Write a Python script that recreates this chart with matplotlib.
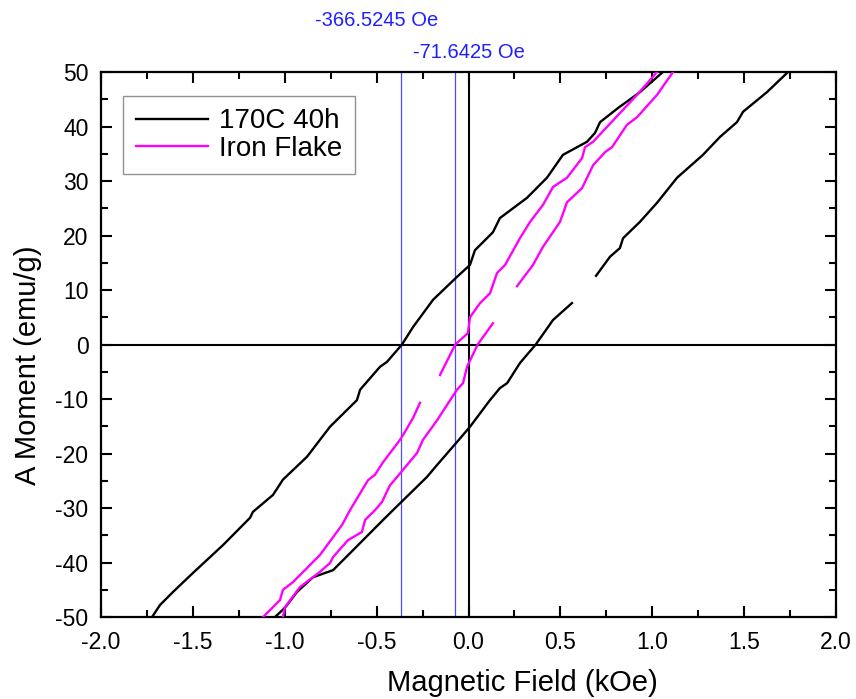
import matplotlib
matplotlib.use("Agg")
import matplotlib.pyplot as plt
import numpy as np

plt.rcParams['font.family'] = ['Liberation Sans', 'DejaVu Sans']

# ---- data (kOe, emu/g) ----
# 170C 40h: descending branch
b_down_x = [1.058, 0.933, 0.814, 0.716, 0.688, 0.645, 0.514, 0.427, 0.318, 0.171, 0.133,
            0.035, 0.008, -0.063, -0.193, -0.302, -0.362, -0.444, -0.482, -0.590, -0.607,
            -0.754, -0.879, -1.010, -1.064, -1.173, -1.189, -1.336, -1.499, -1.608, -1.679, -1.722]
b_down_y = [50.0, 46.3, 43.4, 40.8, 38.8, 37.2, 34.8, 30.6, 26.9, 23.2, 20.6,
            17.3, 14.6, 12.4, 8.2, 3.2, 0.0, -3.2, -4.1, -8.3, -10.2,
            -15.1, -20.6, -24.8, -27.6, -30.7, -31.8, -36.8, -41.9, -45.4, -47.8, -50.0]
# 170C 40h: ascending branch, part 1
b_up1_x = [-1.053, -0.999, -0.933, -0.846, -0.737, -0.645, -0.465, -0.411, -0.226, -0.171,
           -0.063, 0.008, 0.117, 0.171, 0.210, 0.280, 0.366, 0.460, 0.563]
b_up1_y = [-50.0, -48.3, -45.4, -42.7, -41.4, -38.3, -32.2, -30.4, -24.3, -22.1,
           -17.9, -15.1, -10.2, -8.0, -7.1, -3.4, 0.0, 4.5, 7.6]
# 170C 40h: ascending branch, part 2
b_up2_x = [0.694, 0.770, 0.824, 0.841, 0.933, 1.026, 1.135, 1.276, 1.369, 1.461, 1.494, 1.624, 1.739]
b_up2_y = [12.6, 16.1, 17.7, 19.5, 22.5, 26.0, 30.6, 34.8, 38.1, 40.8, 42.7, 46.3, 50.0]

# Iron Flake: descending branch, part 1
m_down1_x = [1.026, 0.917, 0.814, 0.678, 0.634, 0.618, 0.536, 0.460, 0.405, 0.335, 0.280,
             0.199, 0.155, 0.117, 0.063, 0.008, -0.003, -0.072, -0.155]
m_down1_y = [50.0, 45.8, 42.1, 37.2, 36.2, 34.2, 30.6, 28.9, 25.6, 22.5, 19.5,
             14.6, 13.1, 9.4, 7.6, 5.0, 2.1, 0.0, -5.6]
# Iron Flake: descending branch, part 2
m_down2_x = [-0.264, -0.302, -0.356, -0.373, -0.465, -0.509, -0.547, -0.645, -0.688, -0.808,
             -0.955, -1.010, -1.026, -1.097, -1.118]
m_down2_y = [-10.7, -13.5, -16.6, -17.5, -21.6, -23.9, -24.9, -30.4, -33.1, -38.6,
             -43.6, -45.0, -46.9, -49.3, -50.0]
# Iron Flake: ascending branch, part 1
m_up1_x = [-1.010, -0.999, -0.917, -0.808, -0.754, -0.737, -0.656, -0.580, -0.563, -0.509,
           -0.471, -0.427, -0.411, -0.280, -0.248, -0.171, -0.063, -0.030, -0.008, 0.050, 0.133]
m_up1_y = [-50.0, -48.2, -44.5, -41.7, -40.1, -39.0, -35.9, -34.4, -32.2, -30.4,
           -28.9, -25.8, -25.2, -19.9, -17.5, -13.9, -8.3, -7.1, -4.1, 0.0, 3.9]
# Iron Flake: ascending branch, part 2
m_up2_x = [0.264, 0.351, 0.405, 0.498, 0.536, 0.618, 0.678, 0.743, 0.781, 0.862, 0.917, 1.026, 1.113]
m_up2_y = [10.7, 14.6, 17.9, 22.5, 26.1, 28.7, 32.9, 35.3, 36.2, 40.3, 41.7, 45.8, 50.0]

coercive_oe = [-366.5245, -71.6425]
x_ticks = [-2.0, -1.5, -1.0, -0.5, 0.0, 0.5, 1.0, 1.5, 2.0]
y_ticks = [-50, -40, -30, -20, -10, 0, 10, 20, 30, 40, 50]

fig = plt.figure(figsize=(8.56, 6.99), dpi=100)
ax = fig.add_axes([101/856, 1-617/699, 735/856, 545/699])

ax.set_xlim(-2.0, 2.0)
ax.set_ylim(-50, 50)

ax.axhline(0, color='black', lw=1.5, zorder=1)
ax.axvline(0, color='black', lw=1.5, zorder=1)
for c in coercive_oe:
    ax.axvline(c/1000.0, color='#4a4aff', lw=0.9, zorder=1)

lw = 1.7
ax.plot(b_down_x, b_down_y, color='black', lw=lw, label='170C 40h', zorder=3)
ax.plot(b_up1_x, b_up1_y, color='black', lw=lw, zorder=3)
ax.plot(b_up2_x, b_up2_y, color='black', lw=lw, zorder=3)
ax.plot(m_down1_x, m_down1_y, color='#ff00ff', lw=lw, label='Iron Flake', zorder=3)
ax.plot(m_down2_x, m_down2_y, color='#ff00ff', lw=lw, zorder=3)
ax.plot(m_up1_x, m_up1_y, color='#ff00ff', lw=lw, zorder=3)
ax.plot(m_up2_x, m_up2_y, color='#ff00ff', lw=lw, zorder=3)

ax.set_xticks(x_ticks)
ax.set_xticklabels(['%.1f' % v for v in x_ticks])
ax.set_yticks(y_ticks)
ax.set_yticklabels([str(v) for v in y_ticks])
ax.set_xticks(np.arange(-1.75, 2.0, 0.5), minor=True)
ax.set_yticks(np.arange(-45, 50, 10), minor=True)
ax.tick_params(which='both', direction='in', top=True, right=True, width=1.5, labelsize=16.5)
ax.tick_params(which='major', length=8)
ax.tick_params(which='minor', length=5)
ax.tick_params(axis='x', pad=10)
ax.tick_params(axis='y', pad=9)
for s in ax.spines.values():
    s.set_linewidth(1.6)

fig.text(522/856, 1-683/699, 'Magnetic Field (kOe)', fontsize=21, ha='center', va='center')
fig.text(28/856, 1-365/699, 'A Moment (emu/g)', fontsize=21, ha='center', va='center',
         rotation=90)

ax.text(-0.50, 1.0 + 52/545, '%.4f Oe' % coercive_oe[0], transform=ax.get_xaxis_transform(),
        color='#2020ff', fontsize=14.5, ha='center', va='center')
ax.text(0.005, 1.0 + 20/545, '%.4f Oe' % coercive_oe[1], transform=ax.get_xaxis_transform(),
        color='#2020ff', fontsize=14.5, ha='center', va='center')

leg = ax.legend(loc='upper left', bbox_to_anchor=(0.030, 0.956), borderaxespad=0,
                fontsize=20, frameon=True, fancybox=False, handlelength=2.6,
                handletextpad=0.4, borderpad=0.45, labelspacing=0.05)
leg.get_frame().set_edgecolor('#777777')
leg.get_frame().set_linewidth(1.0)

fig.savefig('out.png', dpi=100)
